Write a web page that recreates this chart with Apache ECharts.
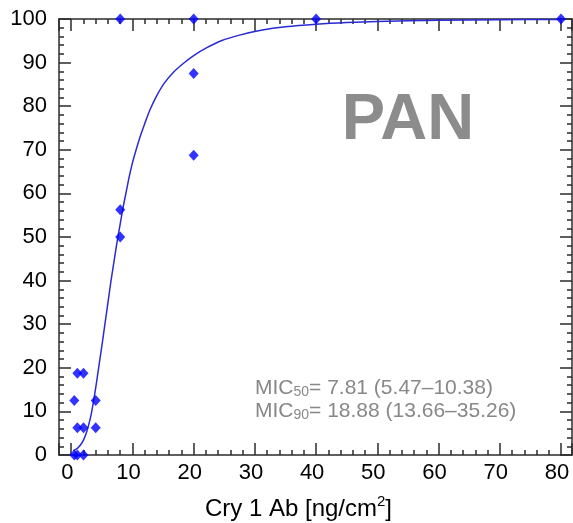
<!DOCTYPE html>
<html>
<head>
<meta charset="utf-8">
<script src="https://cdn.jsdelivr.net/npm/echarts@6/dist/echarts.min.js"></script>
<style>
html,body{margin:0;padding:0;background:#fff;}
#chart{width:573px;height:523px;}
</style>
</head>
<body>
<div id="chart"></div>
<script>
// Observed data points (dose in ng/cm², response in %)
const doseX = [0.5, 0.5, 1, 1, 1, 2, 2, 2, 4, 4, 8, 8, 8, 20, 20, 20, 40, 80];
const responseY = [12.5, 0, 18.75, 6.25, 0, 18.75, 6.25, 0, 12.5, 6.25, 100, 56.25, 50, 100, 87.5, 68.75, 100, 100];

// Fitted curve
const fitX = [0.3, 0.9, 1.5, 2.0, 2.5, 2.9, 3.3, 3.7, 4.1, 4.5, 5.0, 5.5, 6.0, 6.5, 7.0, 7.5, 8.0, 8.5, 9.0, 9.5, 10.0, 10.6, 11.3, 12.0, 12.9, 14.0, 15.2, 16.7, 18.3, 20, 22, 24.5, 27.5, 31, 35, 40, 45, 50, 60, 70, 80];
const fitY = [1.0, 1.4, 2.3, 3.4, 5.2, 7.2, 9.6, 12.8, 16.4, 20.2, 25, 30, 35, 40, 44.5, 49, 53, 57, 60.5, 64, 67, 70, 73.2, 76, 79.3, 82.5, 85.3, 87.8, 89.8, 91.6, 93.3, 95, 96.3, 97.4, 98.2, 98.8, 99.2, 99.45, 99.7, 99.85, 99.9];

// Tick labels
const xTickValues = [0, 10, 20, 30, 40, 50, 60, 70, 80];
const yTickValues = [0, 10, 20, 30, 40, 50, 60, 70, 80, 90, 100];

const FONT = 'Liberation Sans, Arial, sans-serif';
const AXIS_COLOR = '#2b2b2b';

function axisCommon(showLabel, ticks) {
  return {
    axisLine: { show: true, onZero: false, lineStyle: { color: AXIS_COLOR, width: 1.5 } },
    axisTick: { show: true, inside: true, length: 12, lineStyle: { color: AXIS_COLOR, width: 1.5 } },
    minorTick: { show: true, splitNumber: 5, length: 5, lineStyle: { color: AXIS_COLOR, width: 1.5 } },
    splitLine: { show: false },
    minorSplitLine: { show: false },
    axisLabel: {
      show: showLabel,
      fontFamily: FONT,
      fontSize: 22,
      color: '#000',
      formatter: function (v) { return ticks.indexOf(v) >= 0 ? String(v) : ''; }
    }
  };
}

const chart = echarts.init(document.getElementById('chart'), null, { renderer: 'canvas' });

const xBottom = Object.assign({
  type: 'value', position: 'bottom', min: -2, max: 81.8, splitNumber: 8,
  name: '{a|Cry 1 Ab [ng/cm}{s|2}{a|]}',
  nameLocation: 'middle',
  nameGap: 39,
  nameTextStyle: {
    padding: [0, 34, 0, 0],
    rich: {
      a: { fontFamily: FONT, fontSize: 24, color: '#000', lineHeight: 30 },
      s: { fontFamily: FONT, fontSize: 15, color: '#000', lineHeight: 15, verticalAlign: 'top' }
    }
  }
}, axisCommon(true, xTickValues));
xBottom.axisLabel.margin = 7;
xBottom.axisLabel.padding = [0, 8, 0, 0];

const xTop = Object.assign({
  type: 'value', position: 'top', min: -2, max: 81.8, splitNumber: 8
}, axisCommon(false, xTickValues));

const yLeft = Object.assign({
  type: 'value', position: 'left', min: 0, max: 100, interval: 10
}, axisCommon(true, yTickValues));
yLeft.axisLabel.margin = 12;
yLeft.axisLabel.padding = [4, 0, 0, 0];

const yRight = Object.assign({
  type: 'value', position: 'right', min: 0, max: 100, interval: 10
}, axisCommon(false, yTickValues));

chart.setOption({
  backgroundColor: '#fff',
  animation: false,
  grid: { left: 59, right: 1, top: 19, bottom: 68, containLabel: false, outerBoundsMode: 'none' },
  xAxis: [xBottom, xTop],
  yAxis: [yLeft, yRight],
  series: [
    {
      type: 'line',
      xAxisIndex: 0, yAxisIndex: 0,
      data: fitX.map((x, i) => [x, fitY[i]]),
      smooth: 0.3,
      showSymbol: false,
      lineStyle: { color: '#2a2ad6', width: 1.5 },
      z: 3
    },
    {
      type: 'scatter',
      xAxisIndex: 0, yAxisIndex: 0,
      data: doseX.map((x, i) => [x, responseY[i]]),
      symbol: 'diamond',
      symbolSize: [10, 11],
      itemStyle: { color: '#0000ff' },
      clip: false,
      z: 4
    }
  ],
  graphic: [
    {
      type: 'text',
      x: 408, y: 121,
      style: {
        text: 'PAN',
        fontFamily: FONT,
        fontWeight: 'bold',
        fontSize: 65,
        fill: '#8c8c8c',
        align: 'center',
        verticalAlign: 'middle'
      }
    },
    {
      type: 'text',
      x: 255, y: 388,
      style: {
        text: '{a|MIC}{s|50}{a|= 7.81 (5.47–10.38)}',
        align: 'left',
        verticalAlign: 'middle',
        rich: {
          a: { fontFamily: FONT, fontSize: 21, fill: '#888', lineHeight: 22 },
          s: { fontFamily: FONT, fontSize: 14, fill: '#888', lineHeight: 14, verticalAlign: 'bottom' }
        }
      }
    },
    {
      type: 'text',
      x: 255, y: 411,
      style: {
        text: '{a|MIC}{s|90}{a|= 18.88 (13.66–35.26)}',
        align: 'left',
        verticalAlign: 'middle',
        rich: {
          a: { fontFamily: FONT, fontSize: 21, fill: '#888', lineHeight: 22 },
          s: { fontFamily: FONT, fontSize: 14, fill: '#888', lineHeight: 14, verticalAlign: 'bottom' }
        }
      }
    }
  ]
});
</script>
</body>
</html>
